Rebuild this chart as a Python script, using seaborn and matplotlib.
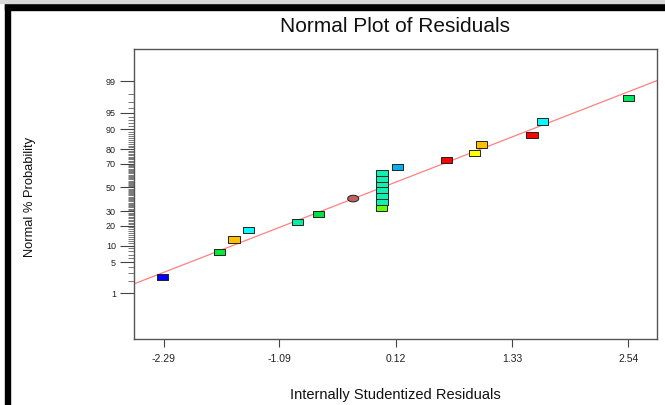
import numpy as np
import pandas as pd
import matplotlib
matplotlib.use('Agg')
import matplotlib.pyplot as plt
from matplotlib.patches import Rectangle
from matplotlib.ticker import FixedLocator, NullFormatter
from statistics import NormalDist
import seaborn as sns

# residuals
residuals = [-2.30, -1.71, -1.56, -1.41, -0.90, -0.68, -0.32, -0.03,
             -0.02, -0.02, -0.02, -0.02, -0.02, -0.02,
             0.14, 0.65, 0.94, 1.01, 1.54, 1.65, 2.54]
probability = [2.5, 7.7, 12.6, 17.7, 22.4, 27.8, 40.3, 32.9,
               37.8, 42.6, 47.8, 52.8, 57.7, 62.5,
               67.6, 72.5, 77.4, 82.7, 87.4, 92.6, 97.5]
point_colors = ['#0000ff', '#00e838', '#ffc000', '#00ffff', '#00f0a0', '#00e040',
                '#c06060', '#66ff00',
                '#10f0b0', '#10f0b0', '#10f0b0', '#10f0b0', '#10f0b0', '#10f0b0',
                '#00b0f0', '#ff0000', '#ffff00', '#ffc000', '#ff0000', '#00ffff', '#00e860']
point_shapes = ['rect'] * 6 + ['ellipse'] + ['rect'] * 14

fit_x = [-2.60, 2.84]
fit_p = [1.70, 99.05]

x_ticks = [-2.29, -1.09, 0.12, 1.33, 2.54]
x_labels = ['-2.29', '-1.09', '0.12', '1.33', '2.54']
y_ticks = [1, 5, 10, 20, 30, 50, 70, 80, 90, 95, 99]

df = pd.DataFrame({'resid': residuals, 'prob': probability,
                   'pt': ['p%d' % i for i in range(len(residuals))],
                   'shape': point_shapes})

nd = NormalDist()
_ppf = np.vectorize(nd.inv_cdf, otypes=[float])
_cdf = np.vectorize(nd.cdf, otypes=[float])


def fwd(p):
    p = np.clip(np.asarray(p, dtype=float) / 100.0, 1e-9, 1 - 1e-9)
    return _ppf(p)


def inv(z):
    return _cdf(np.asarray(z, dtype=float)) * 100.0


sns.set_style('white')
plt.rcParams['font.family'] = ['Liberation Sans', 'DejaVu Sans']

fig = plt.figure(figsize=(6.65, 4.05), dpi=100)
ax = fig.add_axes([134 / 665, 1 - 339 / 405, 523 / 665, 290 / 405])
ax.set_yscale('function', functions=(fwd, inv))

rect = [(-1, -0.55), (1, -0.55), (1, 0.55), (-1, 0.55), (-1, -0.55)]
t = np.linspace(0, 2 * np.pi, 40)
ell = list(zip(np.cos(t), 0.6 * np.sin(t)))

sns.lineplot(x=fit_x, y=fit_p, color='#ff8080', lw=0.9, ax=ax)
sns.scatterplot(data=df, x='resid', y='prob', hue='pt', style='shape',
                palette=dict(zip(df['pt'], point_colors)),
                markers={'rect': rect, 'ellipse': ell},
                s=64, edgecolor='#222222', linewidth=0.7, legend=False,
                ax=ax, zorder=3)

ax.set_xlim(-2.60, 2.84)
ax.set_ylim(inv(-3.33), inv(3.04))

ax.xaxis.set_major_locator(FixedLocator(x_ticks))
ax.set_xticklabels(x_labels)
ax.yaxis.set_major_locator(FixedLocator(y_ticks))
ax.set_yticklabels([str(v) for v in y_ticks])
ax.yaxis.set_minor_locator(FixedLocator([v for v in range(2, 99) if v not in y_ticks]))
ax.yaxis.set_minor_formatter(NullFormatter())

ax.tick_params(axis='x', which='major', direction='out', length=5.8, width=0.8,
               color='#444444', labelsize=7.5, pad=5, labelcolor='#222222', bottom=True)
ax.tick_params(axis='y', which='major', direction='out', length=10, width=0.8,
               color='#444444', labelsize=6.5, pad=3, labelcolor='#222222', left=True)
ax.tick_params(axis='y', which='minor', direction='out', length=4.3, width=0.5,
               color='#444444', left=True)
for sp in ax.spines.values():
    sp.set_color('#555555')
    sp.set_linewidth(1.0)
ax.set_xlabel('')
ax.set_ylabel('')

fig.text(395 / 665, 1 - 27 / 405, 'Normal Plot of Residuals', ha='center', va='center',
         fontsize=15, color='#111111')
fig.text(395 / 665, 1 - 395 / 405, 'Internally Studentized Residuals', ha='center',
         va='center', fontsize=10.5, color='#111111')
fig.text(30 / 665, 1 - 197 / 405, 'Normal % Probability', ha='center', va='center',
         rotation=90, fontsize=9.3, color='#111111')

# screenshot frame
fig.add_artist(Rectangle((5 / 665, 0), 5 / 665, 1 - 4 / 405, transform=fig.transFigure,
                         color='black', zorder=10))
fig.add_artist(Rectangle((5 / 665, 1 - 10 / 405), 1, 6 / 405, transform=fig.transFigure,
                         color='black', zorder=10))
fig.add_artist(Rectangle((0, 1 - 3 / 405), 1, 3 / 405, transform=fig.transFigure,
                         color='#d8d8d8', zorder=10))

fig.savefig('out.png', dpi=100, facecolor='white')
